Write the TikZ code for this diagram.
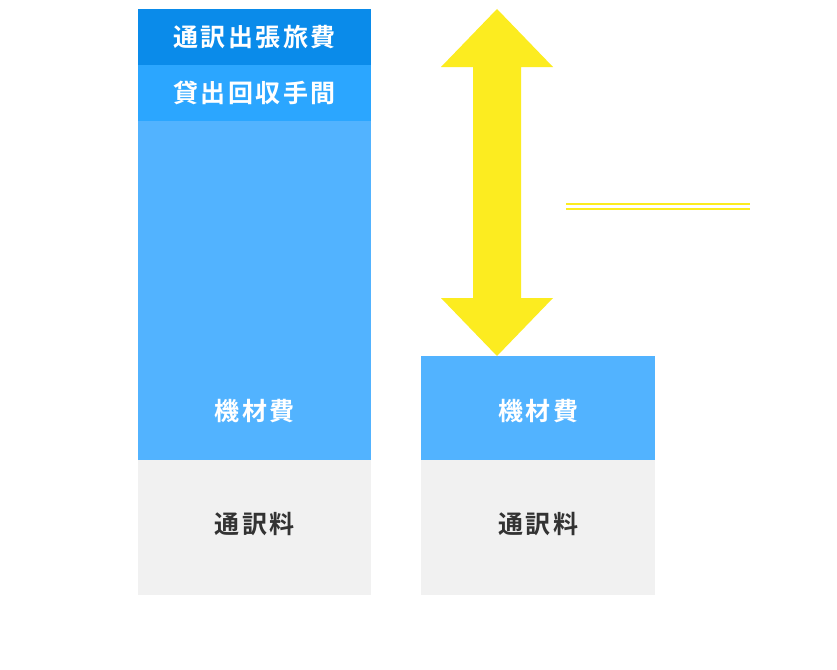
\documentclass[tikz,border=0pt]{standalone}
\usepackage{fontspec}
\newfontfamily\jpfont[LetterSpace=10]{Noto Sans CJK JP Bold}
\definecolor{dblue}{HTML}{0A8BEA}
\definecolor{mblue}{HTML}{2BA6FF}
\definecolor{lblue}{HTML}{52B3FF}
\definecolor{lgray}{HTML}{F1F1F1}
\definecolor{dtext}{HTML}{333333}
\definecolor{yel}{HTML}{FCEC20}
\tikzset{
  seg/.style={inner sep=0pt, outer sep=0pt, font=\fontsize{25}{25}\selectfont\jpfont},
}
\begin{document}
\begin{tikzpicture}[x=1pt,y=-1pt]
\useasboundingbox[fill=white] (0,0) rectangle (837,669);
% left bar
\fill[dblue] (138,9) rectangle (371,65);
\fill[mblue] (138,65) rectangle (371,121);
\fill[lblue] (138,121) rectangle (371,460);
\fill[lgray] (138,460) rectangle (371,595);
\node[seg,white] (t1) at (254.5,37) {通訳出張旅費};
\node[seg,white] (t2) at (254.5,93) {貸出回収手間};
\node[seg,white] (t3) at (254.5,411) {機材費};
\node[seg,dtext] (t4) at (254.5,524) {通訳料};
% right bar
\fill[lblue] (421,356) rectangle (655,460);
\fill[lgray] (421,460) rectangle (655,595);
\node[seg,white] (r1) at (538,411) {機材費};
\node[seg,dtext] (r2) at (538,524) {通訳料};
% double arrow
\fill[yel] (497,9) -- (553,67) -- (521,67) -- (521,298) -- (553,298) -- (497,356)
  -- (441,298) -- (473,298) -- (473,67) -- (441,67) -- cycle;
% double line
\draw[yel, line width=1.5pt] (566,204) -- (750,204);
\draw[yel, line width=1.5pt] (566,209) -- (750,209);
\end{tikzpicture}
\end{document}
